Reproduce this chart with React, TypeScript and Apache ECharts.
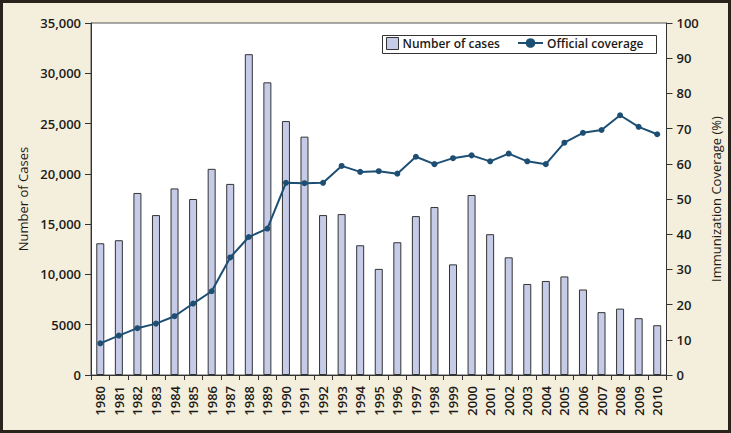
import React, { useEffect, useRef } from "react";
import * as echarts from "echarts";

const years: string[] = [
  "1980","1981","1982","1983","1984","1985","1986","1987","1988","1989",
  "1990","1991","1992","1993","1994","1995","1996","1997","1998","1999",
  "2000","2001","2002","2003","2004","2005","2006","2007","2008","2009","2010",
];

const cases: number[] = [
  13100, 13400, 18100, 15900, 18550, 17500, 20500, 19000, 31900, 29100,
  25250, 23700, 15900, 16000, 12900, 10550, 13200, 15800, 16700, 11000,
  17900, 14000, 11700, 9050, 9350, 9800, 8500, 6250, 6600, 5650, 4950,
];

const coverage: number[] = [
  9.0, 11.2, 13.3, 14.6, 16.7, 20.3, 23.8, 33.4, 39.2, 41.6,
  54.6, 54.5, 54.6, 59.4, 57.7, 57.9, 57.2, 62.0, 59.9, 61.6,
  62.4, 60.7, 62.9, 60.7, 59.9, 66.0, 68.8, 69.6, 73.8, 70.5, 68.4,
];

const leftTicks = { min: 0, max: 35000, interval: 5000 };
const rightTicks = { min: 0, max: 100, interval: 10 };

const FONT = "Open Sans";
const TXT = "#1c1a17";
const BAR_FILL = "#c6cbe8";
const LINE_COLOR = "#1d4f74";

export default function App() {
  const ref = useRef<HTMLDivElement>(null);
  useEffect(() => {
    if (!ref.current) return;
    const chart = echarts.init(ref.current, undefined, { renderer: "svg" });
    const labelStyle = { fontFamily: FONT, fontSize: 13, fontWeight: 600 as any, color: TXT };
    const legendText = { fontFamily: FONT, fontSize: 12, fontWeight: 600 as any, color: TXT, padding: [0, 0, 0, -1] };
    chart.setOption({
      animation: false,
      backgroundColor: "#f4eedc",
      textStyle: { fontFamily: FONT },
      graphic: [
        {
          type: "rect",
          shape: { x: 1.5, y: 1.5, width: 728, height: 430 },
          style: { fill: "none", stroke: "#2a231c", lineWidth: 3 },
          z: 100,
        },
        {
          type: "rect",
          shape: { x: 382.5, y: 35.5, width: 274, height: 18 },
          style: { fill: "#ffffff", stroke: "#333", lineWidth: 1 },
          z: 3,
        },
      ],
      grid: {
        left: 91,
        right: 64.5,
        top: 23,
        bottom: 58,
        show: true,
        backgroundColor: "#ffffff",
        borderColor: "#555",
        borderWidth: 1,
      },
      legend: [
        {
          left: 386,
          top: 37,
          padding: 0,
          z: 5,
          itemWidth: 12,
          itemHeight: 12,
          itemGap: 0,
          textStyle: legendText,
          data: [
            { name: "Number of cases", icon: "rect", itemStyle: { color: BAR_FILL, borderColor: "#333", borderWidth: 1 } },
          ],
        },
        {
          left: 517,
          top: 37,
          padding: 0,
          z: 5,
          itemWidth: 25,
          itemHeight: 12,
          itemGap: 0,
          textStyle: legendText,
          data: [{ name: "Official coverage" }],
        },
      ],
      xAxis: {
        type: "category",
        data: years,
        boundaryGap: true,
        axisLine: { lineStyle: { color: "#333", width: 1 } },
        axisTick: { show: true, alignWithLabel: false, length: 5, lineStyle: { color: "#333" } },
        axisLabel: { ...labelStyle, rotate: 90, margin: 11, interval: 0 },
        splitLine: { show: false },
      },
      yAxis: [
        {
          type: "value",
          ...leftTicks,
          name: "Number of Cases",
          nameLocation: "middle",
          nameGap: 62,
          nameTextStyle: { fontFamily: FONT, fontSize: 13, color: TXT },
          axisLine: { show: true, lineStyle: { color: "#333" } },
          axisTick: { show: true, length: 6, lineStyle: { color: "#333" } },
          axisLabel: {
            ...labelStyle,
            margin: 10,
            formatter: (v: number) => (v >= 10000 ? v.toLocaleString("en-US") : String(v)),
          },
          splitLine: { show: false },
        },
        {
          type: "value",
          ...rightTicks,
          name: "Immunization Coverage (%)",
          nameLocation: "middle",
          nameGap: 38,
          nameTextStyle: { fontFamily: FONT, fontSize: 13, color: TXT },
          axisLine: { show: true, lineStyle: { color: "#333" } },
          axisTick: { show: true, length: 6, lineStyle: { color: "#333" } },
          axisLabel: { ...labelStyle, margin: 10 },
          splitLine: { show: false },
        },
      ],
      series: [
        {
          name: "Number of cases",
          type: "bar",
          yAxisIndex: 0,
          data: cases,
          barWidth: 8,
          itemStyle: { color: BAR_FILL, borderColor: "#333", borderWidth: 1 },
        },
        {
          name: "Official coverage",
          type: "line",
          yAxisIndex: 1,
          data: coverage,
          symbol: "circle",
          symbolSize: 6,
          itemStyle: { color: LINE_COLOR },
          lineStyle: { color: LINE_COLOR, width: 2 },
        },
      ],
    });
    return () => chart.dispose();
  }, []);
  return (
    <div
      ref={ref}
      style={{ position: "fixed", left: 0, top: 0, width: 731, height: 433 }}
    />
  );
}
